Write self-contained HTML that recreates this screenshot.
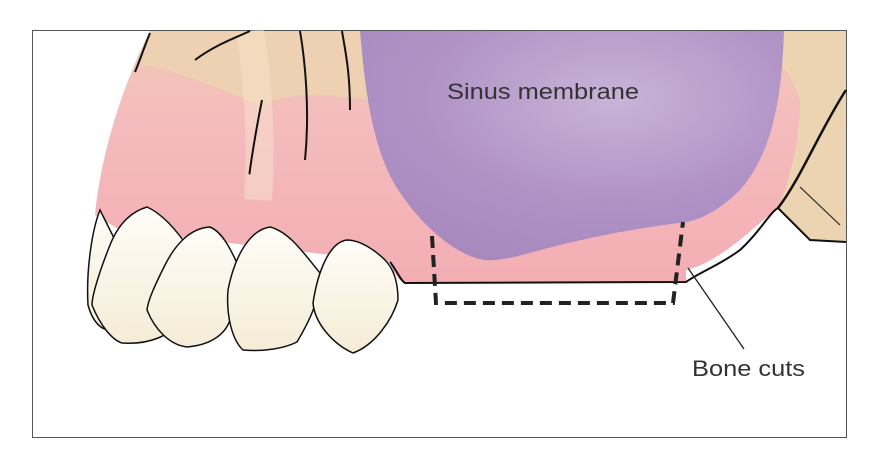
<!DOCTYPE html>
<html><head><meta charset="utf-8"><style>
html,body{margin:0;padding:0;background:#fff;}
svg{display:block;}
</style></head><body>
<svg width="872" height="458" viewBox="0 0 872 458" xmlns="http://www.w3.org/2000/svg">
<defs>
<linearGradient id="gum" x1="0" y1="0" x2="0" y2="1">
<stop offset="0" stop-color="#f1c9b6"/><stop offset="0.35" stop-color="#f4bcbc"/><stop offset="1" stop-color="#f3aeb4"/>
</linearGradient>
<radialGradient id="sin" cx="0.6" cy="0.3" r="0.75">
<stop offset="0" stop-color="#c6b3da"/><stop offset="0.6" stop-color="#ad90c6"/><stop offset="1" stop-color="#a487bf"/>
</radialGradient>
<linearGradient id="tooth" x1="0" y1="0" x2="0" y2="1">
<stop offset="0" stop-color="#fffdf8"/><stop offset="1" stop-color="#f5ecd6"/>
</linearGradient>
</defs>
<rect x="32.5" y="30.5" width="814" height="407" fill="#fff" stroke="#555" stroke-width="1"/>
<path d="M150,31 L846,31 L846,242 L810,240 L778,208 C750,230 720,262 686,270 L686,283 L403,283 C395,275 392,270 390,262 L120,230 L95,215 C100,160 120,90 150,31 Z" fill="url(#gum)"/>
<path d="M150,31 L372,31 L372,100 C330,95 300,90 260,105 C220,90 180,70 140,65 Z" fill="#ecd3b0" opacity="0.8"/>
<path d="M250,31 C258,80 262,140 258,200" stroke="#f5e3cc" stroke-width="28" fill="none" opacity="0.5"/>
<path d="M755,31 L846,31 L846,242 L810,240 L778,208 C790,180 800,140 800,100 C790,70 770,50 755,31Z" fill="#ecd3b2"/>
<path d="M846,90 C820,130 800,180 778,208" stroke="#111" stroke-width="2.5" fill="none"/>
<path d="M800,187 L840,225" stroke="#222" stroke-width="1.2" fill="none"/>
<path d="M360,31 L784,31 C782,90 775,150 740,190 C720,210 700,220 686,222 C640,228 600,235 560,245 C530,252 505,262 484,260 C455,255 420,225 395,185 C372,145 365,90 360,31Z" fill="url(#sin)" opacity="0.95"/>
<path d="M390,262 C398,272 400,280 405,283 L686,282 C700,272 720,265 740,250 C760,232 770,212 778,208 L810,240 L846,242" stroke="#111" stroke-width="2" fill="none"/>
<path d="M150,33 C145,45 140,60 135,72 M195,60 C215,45 235,38 250,31 M262,100 C252,150 248,185 250,170 M300,31 C305,60 310,110 305,160 M342,31 C345,50 350,70 350,110" stroke="#111" stroke-width="2" fill="none"/>
<g stroke="#111" stroke-width="1.5" fill="url(#tooth)">
<path d="M100,210 C92,230 86,270 88,305 C92,320 100,330 110,330 L115,240 Z"/>
<path d="M147,207 C130,212 118,225 110,245 C100,270 92,295 92,305 C100,325 112,340 122,343 C150,345 170,335 180,322 C188,300 192,270 190,250 C180,235 165,215 147,207Z"/>
<path d="M210,227 C190,228 175,245 165,265 C155,285 148,300 147,310 C155,330 170,345 187,347 C210,345 225,335 230,320 C237,300 240,280 237,263 C230,248 222,232 210,227Z"/>
<path d="M270,227 C250,230 235,255 228,290 C226,315 232,340 243,350 C265,352 285,348 297,342 C310,320 320,300 320,273 C305,255 290,232 270,227Z"/>
<path d="M347,240 C330,242 318,270 313,303 C315,325 335,345 353,353 C375,345 392,320 398,300 C398,285 395,270 385,260 C375,250 360,240 347,240Z"/>
</g>
<path d="M432,236 L436,303 L673,303 L683,222" stroke="#222" stroke-width="4" fill="none" stroke-dasharray="12,7"/>
<line x1="688" y1="268" x2="744" y2="349" stroke="#222" stroke-width="1.3"/>
<text x="447" y="99" font-family="Liberation Sans, sans-serif" font-size="22" fill="#333" textLength="192" lengthAdjust="spacingAndGlyphs">Sinus membrane</text>
<text x="692" y="376" font-family="Liberation Sans, sans-serif" font-size="22" fill="#333" textLength="113" lengthAdjust="spacingAndGlyphs">Bone cuts</text>
</svg>
</body></html>
